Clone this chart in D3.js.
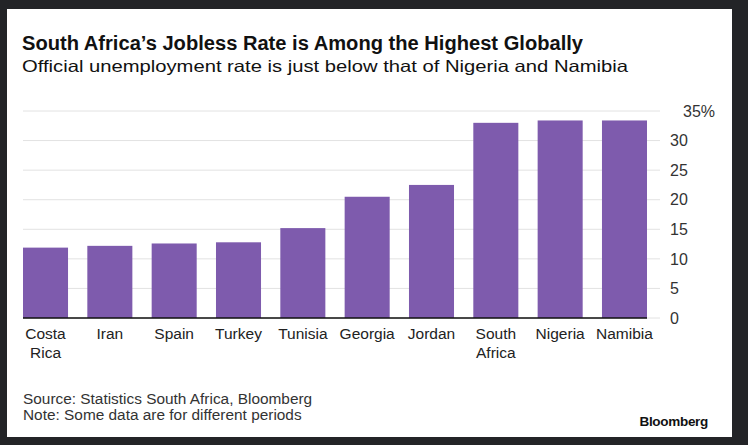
<!DOCTYPE html>
<html>
<head>
<meta charset="utf-8">
<script src="https://cdn.jsdelivr.net/npm/d3@7"></script>
<style>
  html, body { margin: 0; padding: 0; background: #232427; }
  svg { display: block; font-family: "Liberation Sans", Arial, sans-serif; }
</style>
</head>
<body>
<div id="chart"></div>
<script>
// Unemployment rate, %
const countries = ['Costa Rica', 'Iran', 'Spain', 'Turkey', 'Tunisia', 'Georgia', 'Jordan', 'South Africa', 'Nigeria', 'Namibia'];
const labelLines = [['Costa', 'Rica'], ['Iran'], ['Spain'], ['Turkey'], ['Tunisia'], ['Georgia'], ['Jordan'], ['South', 'Africa'], ['Nigeria'], ['Namibia']];
const rates = [11.9, 12.2, 12.6, 12.8, 15.2, 20.5, 22.5, 33.0, 33.4, 33.4];
const yTicks = [0, 5, 10, 15, 20, 25, 30, 35];

const W = 748, H = 445;
const svg = d3.select('#chart').append('svg')
    .attr('width', W)
    .attr('height', H);

// white card on the dark page
svg.append('rect')
    .attr('x', 7).attr('y', 9)
    .attr('width', 725).attr('height', 428)
    .attr('fill', '#fff');

svg.append('text')
    .attr('x', 22).attr('y', 50)
    .attr('textLength', 561).attr('lengthAdjust', 'spacingAndGlyphs')
    .style('font-size', '19.5px').style('font-weight', 'bold').attr('fill', '#111')
    .text('South Africa\u2019s Jobless Rate is Among the Highest Globally');

svg.append('text')
    .attr('x', 22).attr('y', 72)
    .attr('textLength', 606).attr('lengthAdjust', 'spacingAndGlyphs')
    .style('font-size', '16.5px').attr('fill', '#111')
    .text('Official unemployment rate is just below that of Nigeria and Namibia');

const left = 23, right = 647, gridEnd = 660;

const x = d3.scaleBand()
    .domain(countries)
    .range([left, right])
    .paddingInner(0.3)
    .paddingOuter(0);

const y = d3.scaleLinear()
    .domain([0, 35])
    .range([318, 111]);

// gridlines
svg.append('g')
    .selectAll('line')
    .data(yTicks)
    .enter()
    .append('line')
    .attr('x1', left).attr('x2', gridEnd)
    .attr('y1', d => y(d)).attr('y2', d => y(d))
    .attr('stroke', '#e2e2e2')
    .attr('stroke-width', 1);

// y tick labels on the right
svg.append('g')
    .selectAll('text')
    .data(yTicks)
    .enter()
    .append('text')
    .attr('x', d => d === 35 ? 683 : 670)
    .attr('y', d => y(d))
    .attr('dy', '0.36em')
    .style('font-size', '16px')
    .attr('fill', '#333')
    .text(d => d === 35 ? '35%' : d);

// bars
svg.append('g')
    .selectAll('rect')
    .data(rates)
    .enter()
    .append('rect')
    .attr('x', (d, i) => x(countries[i]))
    .attr('y', d => y(d))
    .attr('width', x.bandwidth())
    .attr('height', d => y(0) - y(d))
    .attr('fill', '#7e5bad');

// baseline
svg.append('line')
    .attr('x1', left).attr('x2', right)
    .attr('y1', y(0)).attr('y2', y(0))
    .attr('stroke', '#111')
    .attr('stroke-width', 1.5);

// category labels
const xl = svg.append('g')
    .selectAll('text')
    .data(countries)
    .enter()
    .append('text')
    .attr('x', d => x(d) + x.bandwidth() / 2)
    .attr('y', 339)
    .attr('text-anchor', 'middle')
    .style('font-size', '15.5px')
    .attr('fill', '#222');

xl.selectAll('tspan')
    .data((d, i) => labelLines[i])
    .enter()
    .append('tspan')
    .attr('x', function () { return this.parentNode.getAttribute('x'); })
    .attr('dy', (d, i) => i === 0 ? 0 : 19)
    .text(d => d);

// footer
svg.append('text')
    .attr('x', 23).attr('y', 404)
    .style('font-size', '15.4px').attr('fill', '#333')
    .text('Source: Statistics South Africa, Bloomberg');

svg.append('text')
    .attr('x', 23).attr('y', 420)
    .style('font-size', '15.4px').attr('fill', '#333')
    .text('Note: Some data are for different periods');

svg.append('text')
    .attr('x', 708).attr('y', 426)
    .attr('text-anchor', 'end')
    .style('font-size', '13.5px').style('font-weight', 'bold')
    .style('letter-spacing', '-0.3px')
    .attr('fill', '#111')
    .text('Bloomberg');
</script>
</body>
</html>
